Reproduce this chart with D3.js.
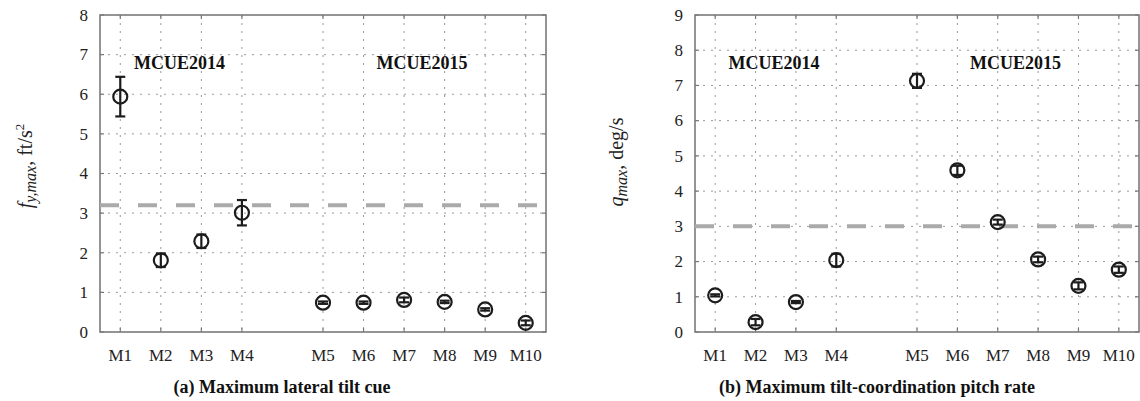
<!DOCTYPE html>
<html>
<head>
<meta charset="utf-8">
<script src="https://cdn.jsdelivr.net/npm/d3@7"></script>
<style>
  html, body { margin: 0; padding: 0; background: #fff; }
  svg { display: block; font-family: "Liberation Serif", "Times New Roman", serif; }
  .grid line { stroke: #9a9a9a; stroke-width: 1; stroke-dasharray: 2,6; }
  .tick-lbl { font-size: 17px; fill: #222; }
  .mark { fill: none; stroke: #1c1c1c; stroke-width: 2.2; }
</style>
</head>
<body>
<svg id="fig" width="1140" height="401"></svg>
<script>
// Run names and their slot on the x axis (one empty slot between the two campaigns)
const runs = ["M1", "M2", "M3", "M4", "M5", "M6", "M7", "M8", "M9", "M10"];
const slots = [1, 2, 3, 4, 6, 7, 8, 9, 10, 11];

// (a) maximum lateral tilt cue, ft/s^2
const latValue = [5.94, 1.81, 2.29, 3.01, 0.74, 0.74, 0.81, 0.76, 0.57, 0.23];
const latErr   = [0.50, 0.17, 0.17, 0.32, 0.03, 0.03, 0.06, 0.03, 0.03, 0.06];
const latThreshold = 3.2;

// (b) maximum tilt-coordination pitch rate, deg/s
const pitchValue = [1.04, 0.28, 0.85, 2.04, 7.13, 4.59, 3.12, 2.06, 1.31, 1.77];
const pitchErr   = [0.03, 0.09, 0.03, 0.18, 0.20, 0.13, 0.07, 0.08, 0.10, 0.09];
const pitchThreshold = 3.0;

const campaigns = ["MCUE2014", "MCUE2015"];
const campaignAt = [2.46, 8.44];

const svg = d3.select("#fig");

function panel(opt) {
  const g = svg.append("g");
  const x = d3.scaleLinear().domain([0.5, 11.5]).range([opt.left, opt.right]);
  const y = d3.scaleLinear().domain([0, opt.ymax]).range([opt.bottom, opt.top]);
  const yTicks = d3.range(0, opt.ymax + 1);

  // dotted grid
  const grid = g.append("g").attr("class", "grid");
  grid.selectAll("line.h").data(yTicks.slice(1, -1)).join("line")
    .attr("x1", opt.left).attr("x2", opt.right)
    .attr("y1", d => y(d)).attr("y2", d => y(d));
  grid.selectAll("line.v").data(slots).join("line")
    .attr("x1", d => x(d)).attr("x2", d => x(d))
    .attr("y1", opt.top).attr("y2", opt.bottom);

  // inward tick marks on all four sides
  const tk = 4;
  const ticks = g.append("g").attr("stroke", "#777").attr("stroke-width", 1.2);
  yTicks.forEach(v => {
    ticks.append("line").attr("x1", opt.left).attr("x2", opt.left + tk).attr("y1", y(v)).attr("y2", y(v));
    ticks.append("line").attr("x1", opt.right).attr("x2", opt.right - tk).attr("y1", y(v)).attr("y2", y(v));
  });
  slots.forEach(s => {
    ticks.append("line").attr("x1", x(s)).attr("x2", x(s)).attr("y1", opt.bottom).attr("y2", opt.bottom - tk);
    ticks.append("line").attr("x1", x(s)).attr("x2", x(s)).attr("y1", opt.top).attr("y2", opt.top + tk);
  });

  // frame
  g.append("rect")
    .attr("x", opt.left).attr("y", opt.top)
    .attr("width", opt.right - opt.left).attr("height", opt.bottom - opt.top)
    .attr("fill", "none").attr("stroke", "#7a7a7a").attr("stroke-width", 1.6);

  // tick labels
  g.selectAll("text.yl").data(yTicks).join("text")
    .attr("class", "tick-lbl")
    .attr("x", opt.left - 12).attr("y", d => y(d)).attr("dy", "0.34em")
    .attr("text-anchor", "end").text(d => d);
  g.selectAll("text.xl").data(runs).join("text")
    .attr("class", "tick-lbl")
    .attr("x", (d, i) => x(slots[i])).attr("y", opt.bottom + 29)
    .attr("text-anchor", "middle").text(d => d);

  // threshold
  g.append("line")
    .attr("x1", opt.left).attr("x2", opt.right)
    .attr("y1", y(opt.threshold)).attr("y2", y(opt.threshold))
    .attr("stroke", "#aaaaaa").attr("stroke-width", 4).attr("stroke-dasharray", "19,19");

  // campaign labels
  g.selectAll("text.camp").data(campaigns).join("text")
    .attr("x", (d, i) => x(campaignAt[i])).attr("y", opt.top + 54)
    .attr("text-anchor", "middle").attr("font-weight", "bold").attr("font-size", 18)
    .attr("fill", "#111").text(d => d);

  // error bars + circles
  const pts = runs.map((r, i) => ({ s: slots[i], v: opt.values[i], e: opt.errs[i] }));
  const cap = 5;
  const eb = g.append("g").attr("class", "mark");
  pts.forEach(p => {
    const cx = x(p.s), y0 = y(p.v - p.e), y1 = y(p.v + p.e);
    eb.append("line").attr("x1", cx).attr("x2", cx).attr("y1", y0).attr("y2", y1);
    eb.append("line").attr("x1", cx - cap).attr("x2", cx + cap).attr("y1", y0).attr("y2", y0);
    eb.append("line").attr("x1", cx - cap).attr("x2", cx + cap).attr("y1", y1).attr("y2", y1);
  });
  g.selectAll("circle.pt").data(pts).join("circle")
    .attr("class", "mark")
    .attr("cx", d => x(d.s)).attr("cy", d => y(d.v)).attr("r", 7);

  // y label
  const yl = g.append("text")
    .attr("transform", `translate(${opt.labelX},${opt.labelY}) rotate(-90)`)
    .attr("text-anchor", "middle").attr("font-size", 20).attr("fill", "#222");
  opt.label(yl);

  // caption
  g.append("text")
    .attr("x", opt.captionX).attr("y", 393)
    .attr("text-anchor", "middle").attr("font-weight", "bold").attr("font-size", 18)
    .attr("fill", "#111").text(opt.caption);
}

panel({
  left: 100, right: 546, top: 15, bottom: 332, ymax: 8,
  values: latValue, errs: latErr, threshold: latThreshold,
  labelX: 32, labelY: 166,
  label: t => {
    t.append("tspan").attr("font-style", "italic").text("f");
    t.append("tspan").attr("font-style", "italic").attr("font-size", 16).attr("dy", 4).text("y,max");
    t.append("tspan").attr("dy", -4).text(", ft/s");
    t.append("tspan").attr("font-size", 13).attr("dy", -8).text("2");
  },
  captionX: 282, caption: "(a) Maximum lateral tilt cue"
});

panel({
  left: 695, right: 1139, top: 15, bottom: 332, ymax: 9,
  values: pitchValue, errs: pitchErr, threshold: pitchThreshold,
  labelX: 623, labelY: 162,
  label: t => {
    t.append("tspan").attr("font-style", "italic").text("q");
    t.append("tspan").attr("font-style", "italic").attr("font-size", 16).attr("dy", 4).text("max");
    t.append("tspan").attr("dy", -4).text(", deg/s");
  },
  captionX: 877, caption: "(b) Maximum tilt-coordination pitch rate"
});
</script>
</body>
</html>
